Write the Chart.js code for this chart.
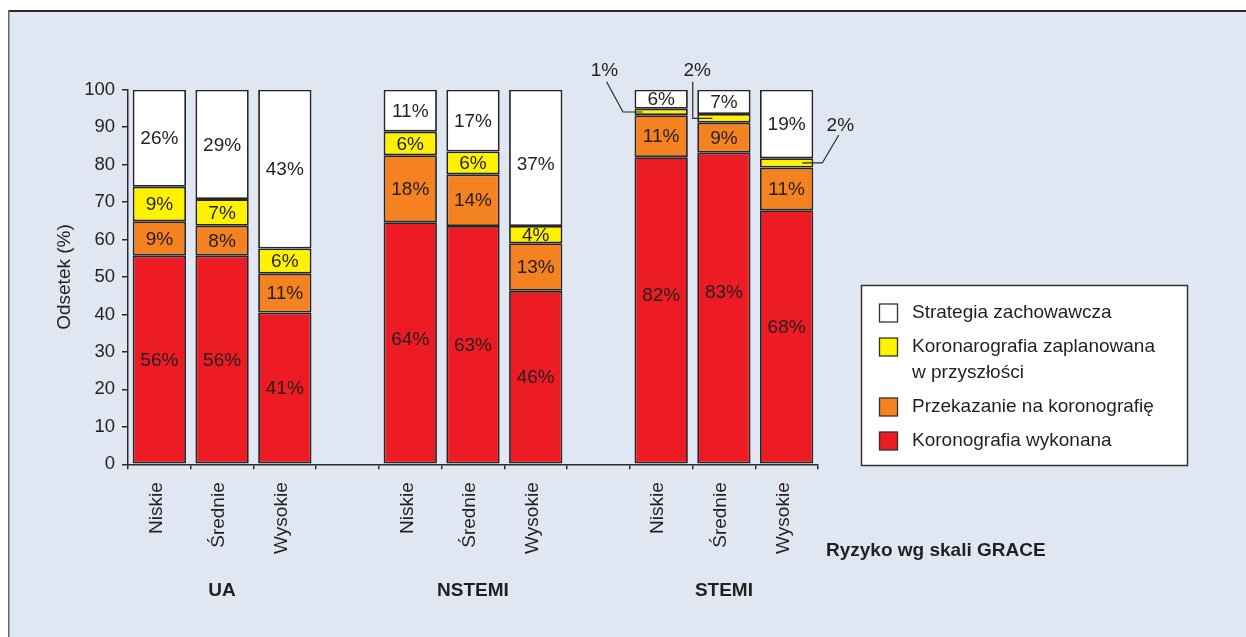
<!DOCTYPE html>
<html lang="pl">
<head>
<meta charset="utf-8">
<title>Ryzyko wg skali GRACE</title>
<script src="https://cdn.jsdelivr.net/npm/chart.js@4/dist/chart.umd.min.js"></script>
<style>
  html, body { margin: 0; padding: 0; background: #fff; }
  #wrap { width: 1246px; height: 637px; }
</style>
</head>
<body>
<div id="wrap"><canvas id="grace-chart" width="1246" height="637"></canvas></div>
<script>
'use strict';

// ******* DATA *********
// empty slots ('') make the gaps between the three groups
let categories = ['Niskie', 'Średnie', 'Wysokie', '', 'Niskie', 'Średnie', 'Wysokie', '', 'Niskie', 'Średnie', 'Wysokie'];
let groups = ['UA', 'NSTEMI', 'STEMI'];
let groupCenters = [1, 5, 9]; // category under each group name
let yTicks = [0, 10, 20, 30, 40, 50, 60, 70, 80, 90, 100];

// bar heights (bottom to top)
let wykonana = [55.7, 55.7, 40.5, null, 64.6, 63.6, 46.3, null, 82.0, 83.2, 67.8];
let przekazanie = [9.2, 8.0, 10.4, null, 17.9, 13.8, 12.7, null, 11.2, 8.0, 11.4];
let zaplanowana = [9.2, 7.1, 6.7, null, 6.3, 6.1, 4.6, null, 1.7, 2.3, 2.5];
let zachowawcza = [25.9, 29.2, 42.4, null, 11.2, 16.5, 36.4, null, 5.1, 6.5, 18.3];

// printed percentages
let wykonanaLabels = ['56%', '56%', '41%', null, '64%', '63%', '46%', null, '82%', '83%', '68%'];
let przekazanieLabels = ['9%', '8%', '11%', null, '18%', '14%', '13%', null, '11%', '9%', '11%'];
let zaplanowanaLabels = ['9%', '7%', '6%', null, '6%', '6%', '4%', null, '1%', '2%', '2%'];
let zachowawczaLabels = ['26%', '29%', '43%', null, '11%', '17%', '37%', null, '6%', '7%', '19%'];

// thin yellow pieces that get a label outside the bar
let calloutCats = [8, 9, 10];

let seriesNames = [
  ['Koronografia wykonana'],
  ['Przekazanie na koronografię'],
  ['Koronarografia zaplanowana', 'w przyszłości'],
  ['Strategia zachowawcza']
];
let seriesColors = ['#ed1c24', '#f58220', '#fff200', '#ffffff'];

// ******* STYLE *********
let textColor = '#231f20';
let lineColor = '#2a2a2a';
let fontFamily = '"Liberation Sans", Arial, Helvetica, sans-serif';

// a few labels in the original sit a bit off the segment middle
let labelNudge = { '0-4': -4, '0-8': -16, '0-9': -16, '0-10': -10, '3-6': 6 };

// ****** PLUGINS ******
let framePlugin = {
  id: 'frame',
  beforeDraw(chart) {
    let c = chart.ctx;
    c.save();
    c.fillStyle = '#ffffff';
    c.fillRect(0, 0, chart.width, chart.height);
    c.fillStyle = '#e0e6f2';
    c.fillRect(8, 10, chart.width - 8, chart.height - 10);
    c.strokeStyle = '#2b2b2b';
    c.lineWidth = 2;
    c.beginPath();
    c.moveTo(8, 11);
    c.lineTo(chart.width, 11);
    c.stroke();
    c.strokeStyle = '#666666';
    c.lineWidth = 1.5;
    c.beginPath();
    c.moveTo(8.75, 10);
    c.lineTo(8.75, chart.height);
    c.stroke();
    c.restore();
  }
};

let valueLabelPlugin = {
  id: 'valueLabels',
  afterDatasetsDraw(chart) {
    let c = chart.ctx;
    c.save();
    c.font = '19px ' + fontFamily;
    c.fillStyle = textColor;
    c.textAlign = 'center';
    c.textBaseline = 'middle';

    chart.data.datasets.forEach((ds, di) => {
      let meta = chart.getDatasetMeta(di);
      meta.data.forEach((bar, i) => {
        let txt = ds.valueLabels[i];
        if (!txt) return;
        if (di === 2 && calloutCats.includes(i)) return;
        let dy = labelNudge[di + '-' + i] || 0;
        c.fillText(txt, bar.x, (bar.y + bar.base) / 2 + 1 + dy);
      });
    });

    // callouts for the 1-2% slices
    let yMeta = chart.getDatasetMeta(2);
    let top = chart.chartArea.top;
    c.strokeStyle = lineColor;
    c.lineWidth = 1.2;
    calloutCats.forEach((cat, k) => {
      let bar = yMeta.data[cat];
      let left = bar.x - bar.width / 2;
      let right = bar.x + bar.width / 2;
      let ym = (bar.y + bar.base) / 2;
      let tx, ty, pts;
      if (k === 0) {
        tx = left - 30; ty = top - 19;
        pts = [[left - 28, ty + 11], [left - 11.5, ym], [left + 8, ym]];
      } else if (k === 1) {
        tx = left; ty = top - 19;
        pts = [[left - 4.5, ty + 11], [left - 4.5, ym], [left + 15, ym]];
      } else {
        tx = right + 27; ty = ym - 37;
        pts = [[right + 25.5, ym - 28], [right + 9, ym], [right - 11, ym]];
      }
      c.beginPath();
      c.moveTo(pts[0][0], pts[0][1]);
      c.lineTo(pts[1][0], pts[1][1]);
      c.lineTo(pts[2][0], pts[2][1]);
      c.stroke();
      c.fillText(chart.data.datasets[2].valueLabels[cat], tx, ty);
    });
    c.restore();
  }
};

let extrasPlugin = {
  id: 'extras',
  afterDraw(chart) {
    let c = chart.ctx;
    let xScale = chart.scales.x;
    c.save();
    c.fillStyle = textColor;

    // group names under the risk labels
    c.font = 'bold 19px ' + fontFamily;
    c.textAlign = 'center';
    c.textBaseline = 'middle';
    groups.forEach((g, k) => {
      c.fillText(g, xScale.getPixelForValue(groupCenters[k]), 591);
    });
    c.textAlign = 'left';
    c.fillText('Ryzyko wg skali GRACE', chart.chartArea.right + 8, 551);

    // legend box
    let bx = 861, by = 285, bw = 326, bh = 180;
    c.fillStyle = '#ffffff';
    c.fillRect(bx, by, bw, bh);
    c.strokeStyle = '#333333';
    c.lineWidth = 1.5;
    c.strokeRect(bx + 0.5, by + 0.5, bw, bh);

    c.font = '19px ' + fontFamily;
    c.textBaseline = 'middle';
    let y = 313;
    for (let di = 3; di >= 0; di--) {
      let lines = seriesNames[di];
      c.fillStyle = seriesColors[di];
      c.fillRect(879.5, y - 9, 18, 18);
      c.strokeStyle = '#333333';
      c.lineWidth = 1.3;
      c.strokeRect(879.5, y - 9, 18, 18);
      c.fillStyle = textColor;
      lines.forEach((ln, j) => c.fillText(ln, 912, y + j * 26));
      y += 34 + (lines.length - 1) * 26;
    }
    c.restore();
  }
};

// ****** BUILD DATASETS ******
let seriesData = [wykonana, przekazanie, zaplanowana, zachowawcza];
let seriesLabels = [wykonanaLabels, przekazanieLabels, zaplanowanaLabels, zachowawczaLabels];

let datasets = [];
for (let i = 0; i < seriesData.length; i++) {
  datasets.push({
    label: seriesNames[i].join(' '),
    data: seriesData[i],
    valueLabels: seriesLabels[i],
    backgroundColor: seriesColors[i],
    borderColor: '#262626',
    borderWidth: 1.8,
    borderSkipped: false,
    barPercentage: 0.85,
    categoryPercentage: 1
  });
}

let ctx = document.getElementById('grace-chart');

new Chart(ctx, { //eslint-disable-line
  type: 'bar',
  data: {
    labels: categories,
    datasets: datasets
  },
  options: {
    responsive: false,
    animation: false,
    layout: {
      padding: { left: 0, top: 89.7, right: 428, bottom: 0 }
    },
    scales: {
      x: {
        stacked: true,
        afterFit: (scale) => { scale.height = 172.7; },
        border: { color: lineColor, width: 1.5 },
        grid: { drawOnChartArea: false, drawTicks: true, tickLength: 5, color: lineColor, lineWidth: 1.5, offset: true },
        ticks: {
          autoSkip: false,
          maxRotation: 90,
          minRotation: 90,
          padding: 13,
          labelOffset: -3,
          color: textColor,
          font: { family: fontFamily, size: 19 }
        }
      },
      y: {
        stacked: true,
        min: 0,
        max: 100,
        afterFit: (scale) => { scale.width = 128; },
        afterBuildTicks: (scale) => { scale.ticks = yTicks.map(v => ({ value: v })); },
        border: { color: lineColor, width: 1.5 },
        grid: { drawOnChartArea: false, drawTicks: true, tickLength: 6, color: lineColor, lineWidth: 1.5 },
        ticks: {
          padding: 7,
          color: textColor,
          font: { family: fontFamily, size: 18.5 }
        },
        title: {
          display: true,
          text: 'Odsetek (%)',
          color: textColor,
          padding: { top: 53 },
          font: { family: fontFamily, size: 19 }
        }
      }
    },
    plugins: {
      legend: { display: false },
      tooltip: { enabled: false }
    }
  },
  plugins: [framePlugin, valueLabelPlugin, extrasPlugin]
});
</script>
</body>
</html>
